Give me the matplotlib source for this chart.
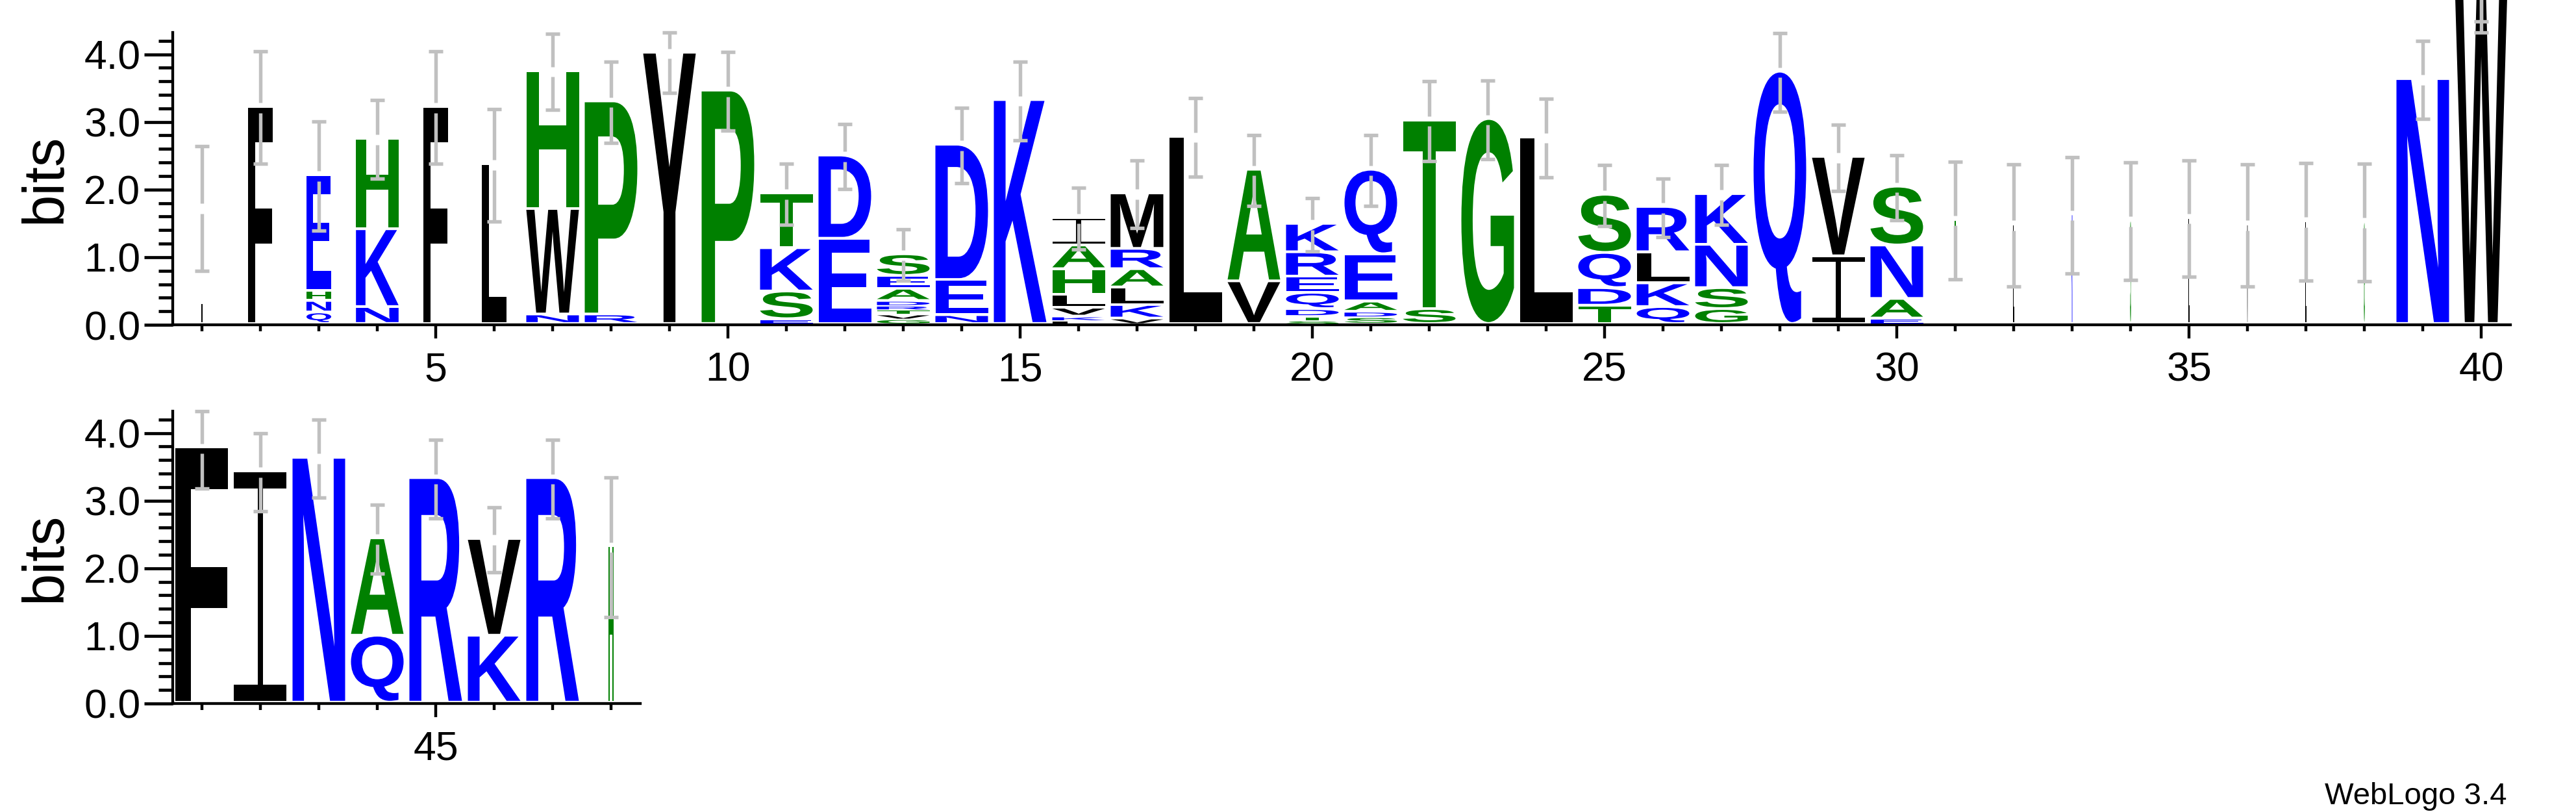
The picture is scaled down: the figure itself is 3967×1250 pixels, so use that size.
import numpy as np
import matplotlib
matplotlib.use("Agg")
import matplotlib.pyplot as plt
from matplotlib.font_manager import FontProperties
from matplotlib.path import Path
from matplotlib.patches import PathPatch
from matplotlib.textpath import TextPath

# columns 1-40 go on the first line, 41-48 on the second
positions = list(range(1, 49))

# letters of each stack, bottom to top
letters = ["L", "F", "QNHE", "NKH", "F", "L", "NWH", "RP", "Y", "P",
           "ESKT", "ED", "GVTRDAES", "NED", "K", "FKVLHAI", "VKLARM", "L", "VA", "STDQERK",
           "SDAEQ", "ST", "G", "L", "TDQS", "QKLR", "GSNK", "Q", "IV", "EANS",
           "T", "L", "K", "S", "L", "V", "L", "G", "N", "W",
           "F", "I", "N", "QA", "R", "KV", "R", "H"]

# height (bits) of each letter, same order as above
heights = [[1.72], [3.21], [0.17, 0.17, 0.15, 1.71], [0.25, 1.15, 1.34], [3.21],
           [2.36], [0.14, 1.56, 2.04], [0.14, 3.15], [4.01], [3.45],
           [0.07, 0.41, 0.64, 0.81], [1.26, 1.23],
           [0.07, 0.07, 0.07, 0.06, 0.07, 0.18, 0.19, 0.32],
           [0.13, 0.52, 2.0], [3.31],
           [0.05, 0.06, 0.13, 0.19, 0.38, 0.35, 0.41],
           [0.08, 0.2, 0.26, 0.27, 0.3, 0.82], [2.77], [0.63, 1.65],
           [0.05, 0.06, 0.11, 0.24, 0.24, 0.36, 0.42],
           [0.1, 0.08, 0.15, 0.7, 1.25], [0.22, 2.79], [3.03], [2.76],
           [0.27, 0.26, 0.52, 0.86], [0.25, 0.35, 0.46, 0.67],
           [0.22, 0.31, 0.64, 0.75], [3.73], [1.0, 1.47], [0.08, 0.29, 0.79, 0.87],
           [1.54], [1.47], [1.62], [1.53], [1.57], [1.47], [1.52], [1.51],
           [3.62], [5.0],
           [3.77], [3.42], [3.62], [0.99, 1.44], [3.32], [0.99, 1.43], [3.32], [2.31]]

# stack width as a fraction of a full column
widths = [0.035, 0.47, 0.47, 0.81, 0.46, 0.47] + [1.0] * 24 + [0.02] * 8 + [1.0, 1.0] \
    + [1.0] * 7 + [0.1]

# half length of the error bar at each column (bits)
errors = [0.92, 0.83, 0.81, 0.58, 0.83, 0.83, 0.56, 0.60, 0.58, 0.58,
          0.45, 0.48, 0.38, 0.56, 0.58, 0.46, 0.50, 0.58, 0.52, 0.39,
          0.52, 0.59, 0.58, 0.58, 0.45, 0.43, 0.44, 0.58, 0.49, 0.48,
          0.87, 0.90, 0.86, 0.87, 0.86, 0.90, 0.87, 0.87, 0.58, 0.51,
          0.59, 0.58, 0.58, 0.51, 0.58, 0.48, 0.58, 1.03]

BLUE, GREEN, BLACK = "#0000ff", "#008000", "#000000"
colors = {}
for c in "RKDENQ":
    colors[c] = BLUE
for c in "SGHTAP":
    colors[c] = GREEN
for c in "YVMCLFIW":
    colors[c] = BLACK

GREY = "#c0c0c0"
YMAX = np.log2(20)
FULL = 0.9      # full stack width in column units
GAP = 0.075     # blank part of the error bar around the stack top
CAP = 0.117
FONT = "Liberation Sans"
LETTER_FONT = FontProperties(family=FONT, weight="bold")

plt.rcParams["font.family"] = FONT


def letter_path(ch):
    if ch == "I":
        # serif I as drawn by WebLogo
        b, s = 0.07, 0.05
        verts = [(0, 0), (1, 0), (1, b), (0.5 + s, b), (0.5 + s, 1 - b), (1, 1 - b), (1, 1),
                 (0, 1), (0, 1 - b), (0.5 - s, 1 - b), (0.5 - s, b), (0, b), (0, 0)]
        codes = [Path.MOVETO] + [Path.LINETO] * 11 + [Path.CLOSEPOLY]
        return Path(verts, codes)
    return TextPath((0, 0), ch, size=1, prop=LETTER_FONT)


def draw_letter(ax, ch, xc, w, y0, h):
    p = letter_path(ch)
    ext = p.get_extents()
    g = min(0.04, 0.3 * h)
    v = np.array(p.vertices, dtype=float)
    v[:, 0] = xc - w / 2 + (v[:, 0] - ext.x0) / ext.width * w
    v[:, 1] = y0 + g + (v[:, 1] - ext.y0) / ext.height * (h - g)
    ax.add_patch(PathPatch(Path(v, p.codes), facecolor=colors[ch], edgecolor="none",
                           lw=0, clip_on=False, zorder=3))


def draw_error(ax, x, top, e):
    hi = min(top + e, YMAX)
    lo = top - e
    kw = dict(color=GREY, lw=3.9, solid_capstyle="butt", clip_on=False, zorder=5)
    ax.plot([x, x], [top + GAP, hi], **kw)
    ax.plot([x, x], [top - GAP, lo], **kw)
    for y in (hi, lo):
        ax.plot([x - CAP, x + CAP], [y, y], **kw)


fig = plt.figure(figsize=(39.67, 12.5), dpi=100)
W, H = 3967, 1250
ax1 = fig.add_axes([266 / W, 0.6, 3600 / W, 0.36])
ax2 = fig.add_axes([266 / W, 167 / H, 720 / W, 0.36])

for ax, lo, hi, majors in [(ax1, 1, 40, list(range(5, 41, 5))), (ax2, 41, 48, [45])]:
    ax.set_xlim(lo - 0.5, hi + 0.5)
    ax.set_ylim(0, YMAX)
    for pos, seq, hs, wf, e in zip(positions, letters, heights, widths, errors):
        if pos < lo or pos > hi:
            continue
        y = 0
        for ch, h in zip(seq, hs):
            draw_letter(ax, ch, pos, FULL * wf, y, h)
            y += h
        draw_error(ax, pos, y, e)

    for s in ["top", "right"]:
        ax.spines[s].set_visible(False)
    for s in ["left", "bottom"]:
        ax.spines[s].set_linewidth(3.1)
    ax.set_xticks(majors)
    ax.set_xticks(range(lo, hi + 1), minor=True)
    ax.set_yticks([0, 1, 2, 3, 4])
    ax.set_yticks(np.arange(0, 4.4, 0.2), minor=True)
    ax.set_yticklabels(["0.0", "1.0", "2.0", "3.0", "4.0"])
    ax.tick_params(axis="y", which="major", length=31.7, width=3.4, pad=4, labelsize=45)
    ax.tick_params(axis="y", which="minor", length=16, width=3.4)
    ax.tick_params(axis="x", which="major", length=15, width=3.2, pad=14, labelsize=45)
    ax.tick_params(axis="x", which="minor", length=7.5, width=3.2)
    ax.set_facecolor("none")

fig.text(70 / W, 1 - 275 / H, "bits", rotation=90, fontsize=64, ha="center", va="center")
fig.text(70 / W, 1 - 858 / H, "bits", rotation=90, fontsize=64, ha="center", va="center")
fig.text(3860 / W, 1 - 1238 / H, "WebLogo 3.4", fontsize=34, ha="right", va="baseline")

fig.savefig("out.png", dpi=100)
